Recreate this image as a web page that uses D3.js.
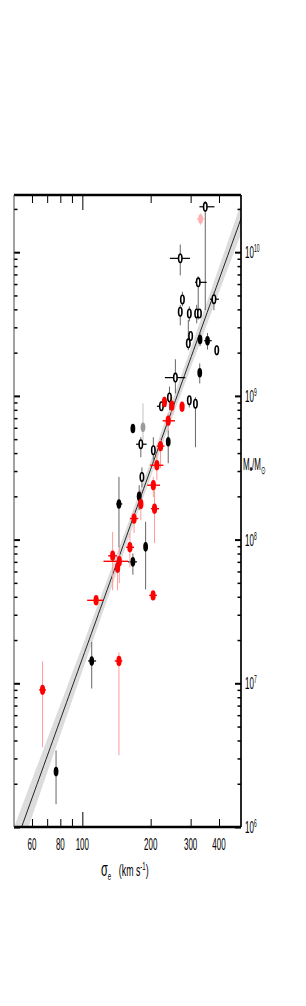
<!DOCTYPE html>
<html>
<head>
<meta charset="utf-8">
<script src="https://cdn.jsdelivr.net/npm/d3@7"></script>
<style>
  body { margin: 0; background: #fff; }
  text { font-family: "Liberation Sans", Arial, sans-serif; fill: #000; }
</style>
</head>
<body>
<div id="chart"></div>
<script>
// sigma in km/s, mass in solar masses; lo/hi are error bar ends
var openPts = [
  {s:348, sLo:328, sHi:382, m:2.07e10, mLo:3.95e9, mHi:2.27e10},
  {s:270, sLo:243, sHi:298, m:9.06e9, mLo:6.9e9, mHi:1.13e10},
  {s:324, sLo:314, sHi:353, m:6.17e9, mLo:3.4e9, mHi:6.8e9},
  {s:380, sLo:365, sHi:400, m:4.71e9, mLo:3.95e9, mHi:5.3e9},
  {s:276, m:4.69e9, mLo:4.2e9, mHi:5.3e9},
  {s:270, m:3.85e9, mLo:3.1e9, mHi:4.3e9},
  {s:296, m:3.75e9, mLo:3.3e9, mHi:4.2e9},
  {s:319, m:3.75e9, mLo:3.2e9, mHi:4.3e9},
  {s:328, m:3.75e9},
  {s:300, m:2.61e9},
  {s:293, m:2.32e9, mLo:2.08e9, mHi:3.37e9},
  {s:391, m:2.08e9, mLo:1.91e9, mHi:2.25e9},
  {s:257, sLo:231, sHi:284, m:1.34e9, mLo:1.04e9, mHi:1.80e9},
  {s:242, m:9.75e8, mLo:7.95e8, mHi:1.16e9},
  {s:223, sLo:213, sHi:234, m:8.47e8},
  {s:296, m:9.33e8, mLo:8.3e8, mHi:1.0e9},
  {s:315, m:8.83e8, mLo:4.39e8, mHi:9.8e8},
  {s:181, sLo:172.5, sHi:192, m:4.61e8, mLo:3.74e8, mHi:5.16e8},
  {s:205.5, m:4.19e8, mLo:3.4e8, mHi:5.16e8},
  {s:183, m:2.73e8, mLo:2.31e8, mHi:3.18e8}
];

var filledPts = [
  {s:330, m:2.47e9, mLo:2.22e9, mHi:2.74e9},
  {s:356, sLo:344, sHi:371.5, m:2.42e9, mLo:2.1e9, mHi:2.74e9},
  {s:329, m:1.45e9, mLo:1.22e9, mHi:1.68e9},
  {s:167, m:5.93e8},
  {s:239, m:4.80e8, mLo:3.40e8, mHi:5.77e8},
  {s:178, m:2.00e8, mLo:1.61e8, mHi:2.39e8},
  {s:145, sLo:141, sHi:150, m:1.77e8, mLo:8.8e7, mHi:2.73e8},
  {s:190, sLo:187, sHi:193, m:8.9e7, mLo:4.5e7, mHi:1.33e8},
  {s:167, sLo:159, sHi:174, m:7.0e7, mLo:5.7e7, mHi:8.0e7},
  {s:110, sLo:106, sHi:115, m:1.43e7, mLo:9.2e6, mHi:1.94e7},
  {s:76.6, sLo:75, sHi:78, m:2.43e6, mLo:1.44e6, mHi:3.41e6}
];

var redPts = [
  {s:230, m:9.08e8, mLo:8.3e8, mHi:9.9e8},
  {s:248, m:8.55e8, mLo:7.4e8, mHi:9.8e8},
  {s:275, m:8.41e8},
  {s:239, sLo:226, sHi:256, m:6.71e8, mLo:5.77e8, mHi:7.6e8},
  {s:221, sLo:213, sHi:230, m:4.47e8, mLo:3.14e8, mHi:5.07e8},
  {s:213, sLo:199, sHi:227.5, m:3.29e8, mLo:2.59e8, mHi:3.99e8},
  {s:205.5, sLo:193, sHi:220, m:2.39e8, mLo:1.97e8, mHi:2.72e8},
  {s:181, m:1.77e8, mLo:1.36e8, mHi:2.20e8},
  {s:208, sLo:200.6, sHi:217.7, m:1.64e8, mLo:9.46e7, mHi:2.20e8},
  {s:169, sLo:162, sHi:176.5, m:1.40e8, mLo:1.11e8, mHi:1.60e8},
  {s:162, sLo:156, sHi:169, m:8.84e7, mLo:6.4e7, mHi:1.11e8},
  {s:136, sLo:130, sHi:142, m:7.71e7, mLo:4.44e7, mHi:1.13e8},
  {s:145.5, sLo:124, sHi:159, m:7.06e7, mLo:4.98e7, mHi:8.83e7},
  {s:143, m:6.37e7, mLo:4.44e7, mHi:7.71e7},
  {s:205, sLo:197, sHi:213, m:4.09e7},
  {s:115, sLo:105, sHi:124, m:3.78e7, mLo:3.48e7, mHi:4.09e7},
  {s:145, sLo:139, sHi:150, m:1.43e7, mLo:3.16e6, mHi:1.64e7},
  {s:66.8, sLo:64.5, sHi:69.2, m:9.0e6, mLo:3.59e6, mHi:1.42e7}
];

var pinkPts = [
  {s:332, sLo:319, sHi:347, m:1.70e10, mLo:1.54e10, mHi:1.87e10}
];

var grayPts = [
  {s:185, m:6.05e8, mLo:4.9e8, mHi:8.9e8}
];

// fit: log M = a + b log(sigma/200), band half width in dex
var fitA = 8.49, fitB = 4.38;
var bandA = 0.055, bandB = 0.224;

var xMajor = [100];
var xMinor = [60, 70, 80, 90, 200, 300, 400];
var xLabels = [60, 80, 100, 200, 300, 400];
var yMajor = [1e6, 1e7, 1e8, 1e9, 1e10];
var yExp = [6, 7, 8, 9, 10];

var svgWidth = 306, svgHeight = 1006;
var margin = { left: 14, top: 195 };
var width = 227, height = 632;

var svg = d3.select("#chart").append("svg")
  .attr("width", svgWidth)
  .attr("height", svgHeight);

var g = svg.append("g")
  .attr("transform", `translate(${margin.left}, ${margin.top})`);

var x = d3.scaleLog().domain([50, 500]).range([0, width]);
var y = d3.scaleLog().domain([1e6, 2.5e10]).range([height, 0]);

// minor y ticks 2..9 x 10^k
var yMinor = [];
[1e6, 1e7, 1e8, 1e9, 1e10].forEach(function(p) {
  for (var k = 2; k <= 9; k++) if (p * k <= 2.5e10) yMinor.push(p * k);
});

g.append("clipPath").attr("id", "clip")
  .append("rect").attr("width", width).attr("height", height);

// fit band + line
var ls = d3.range(1.69, 2.71, 0.01);
function band(l) { return Math.sqrt(bandA * bandA + Math.pow(bandB * (l - 2.3), 2)); }
function fit(l) { return fitA + fitB * (l - Math.log10(200)); }
var area = d3.area()
  .x(l => x(Math.pow(10, l)))
  .y0(l => y(Math.pow(10, fit(l) - band(l))))
  .y1(l => y(Math.pow(10, fit(l) + band(l))));

var clipped = g.append("g").attr("clip-path", "url(#clip)");
clipped.append("path").datum(ls).attr("d", area).attr("fill", "#dcdcdc");
clipped.append("path").datum(ls)
  .attr("d", d3.line().x(l => x(Math.pow(10, l))).y(l => y(Math.pow(10, fit(l)))))
  .attr("fill", "none").attr("stroke", "#111").attr("stroke-width", 0.9);

// error bars
function errBars(data, xCol, yCol, xw, yw) {
  var eg = g.append("g");
  eg.selectAll(".ey").data(data.filter(d => d.mLo))
    .enter().append("line")
    .attr("x1", d => x(d.s)).attr("x2", d => x(d.s))
    .attr("y1", d => y(d.mLo)).attr("y2", d => y(d.mHi))
    .attr("stroke", yCol).attr("stroke-width", yw);
  eg.selectAll(".ex").data(data.filter(d => d.sLo))
    .enter().append("line")
    .attr("x1", d => x(d.sLo)).attr("x2", d => x(d.sHi))
    .attr("y1", d => y(d.m)).attr("y2", d => y(d.m))
    .attr("stroke", xCol).attr("stroke-width", xw);
}
errBars(openPts, "#000", "#666", 1.2, 1);
errBars(filledPts, "#000", "#666", 1.2, 1);
errBars(grayPts, "#999", "#ccc", 1.2, 1.2);
errBars(pinkPts, "#ffb8b8", "#ffc8c8", 1.2, 1);
errBars(redPts, "#ff0000", "#ff9a9a", 1.4, 1);

function markers(data, fill, stroke, rx, ry, sw) {
  g.append("g").selectAll("ellipse").data(data).enter().append("ellipse")
    .attr("cx", d => x(d.s)).attr("cy", d => y(d.m))
    .attr("rx", rx).attr("ry", ry)
    .attr("fill", fill).attr("stroke", stroke).attr("stroke-width", sw);
}
markers(openPts, "#fff", "#000", 1.7, 4.2, 1.6);
markers(filledPts, "#000", "none", 2.4, 4.8, 0);
markers(grayPts, "#9a9a9a", "none", 2.4, 4.8, 0);
markers(pinkPts, "#ffb0b0", "none", 2.4, 4.8, 0);
markers(redPts, "#ff0000", "none", 2.6, 5.2, 0);

// ticks (inward on all four sides)
function tickAxis(axis, tx, ty, sw) {
  var a = g.append("g").attr("transform", `translate(${tx}, ${ty})`).call(axis);
  a.select(".domain").remove();
  a.selectAll("text").remove();
  a.selectAll("line").attr("stroke", "#000").attr("stroke-width", sw);
}
tickAxis(d3.axisTop(x).tickValues(xMinor).tickSize(8), 0, height, 1);
tickAxis(d3.axisTop(x).tickValues(xMajor).tickSize(15), 0, height, 1);
tickAxis(d3.axisBottom(x).tickValues(xMinor).tickSize(8), 0, 0, 1);
tickAxis(d3.axisBottom(x).tickValues(xMajor).tickSize(15), 0, 0, 1);
tickAxis(d3.axisRight(y).tickValues(yMinor).tickSize(3.5), 0, 0, 1.5);
tickAxis(d3.axisRight(y).tickValues(yMajor).tickSize(6), 0, 0, 2);
tickAxis(d3.axisLeft(y).tickValues(yMinor).tickSize(3.5), width, 0, 1.5);
tickAxis(d3.axisLeft(y).tickValues(yMajor).tickSize(6), width, 0, 2);

// frame
g.append("line").attr("x1", 0).attr("x2", width).attr("y1", 0).attr("y2", 0)
  .attr("stroke", "#000").attr("stroke-width", 2.5);
g.append("line").attr("x1", 0).attr("x2", width).attr("y1", height).attr("y2", height)
  .attr("stroke", "#000").attr("stroke-width", 2.3);
g.append("line").attr("x1", width).attr("x2", width).attr("y1", 0).attr("y2", height)
  .attr("stroke", "#000").attr("stroke-width", 1.7);
g.append("line").attr("x1", 0).attr("x2", 0).attr("y1", 0).attr("y2", height)
  .attr("stroke", "#444").attr("stroke-width", 1);

// x tick labels (condensed)
g.selectAll(".xl").data(xLabels).enter().append("g")
  .attr("transform", d => `translate(${x(d)}, ${height + 23}) scale(0.5, 1)`)
  .append("text")
  .attr("text-anchor", "middle")
  .attr("font-size", 16)
  .text(d => d);

// y tick labels
var yl = g.selectAll(".yl").data(yMajor).enter().append("g")
  .attr("transform", d => `translate(${width + 4}, ${y(d) + 6}) scale(0.5, 1)`)
  .append("text")
  .attr("font-size", 16);
yl.append("tspan").text("10");
yl.append("tspan").attr("font-size", 10).attr("dy", -6)
  .text((d, i) => yExp[i]);

// y axis title
var yt = g.append("g")
  .attr("transform", `translate(${width + 2}, ${470 - margin.top}) scale(0.5, 1)`)
  .append("text").attr("font-size", 16);
yt.append("tspan").text("M");
yt.append("tspan").attr("font-size", 14).attr("dy", 4).style("fill", "#000").text("\u2022");
yt.append("tspan").attr("dy", -4).text("/M");
yt.append("tspan").attr("font-size", 11).attr("dy", 4).text("\u2299");

// x axis title
var xt = g.append("g")
  .attr("transform", `translate(${101 - margin.left}, ${876 - margin.top}) scale(0.55, 1)`)
  .append("text").attr("font-size", 16);
xt.append("tspan").attr("font-size", 20).text("σ");
xt.append("tspan").attr("font-size", 11).attr("dy", 4).text("e");
xt.append("tspan").attr("dy", -4).attr("dx", 14).text("(km s");
xt.append("tspan").attr("font-size", 11).attr("dy", -6).text("-1");
xt.append("tspan").attr("dy", 6).text(")");
</script>
</body>
</html>
